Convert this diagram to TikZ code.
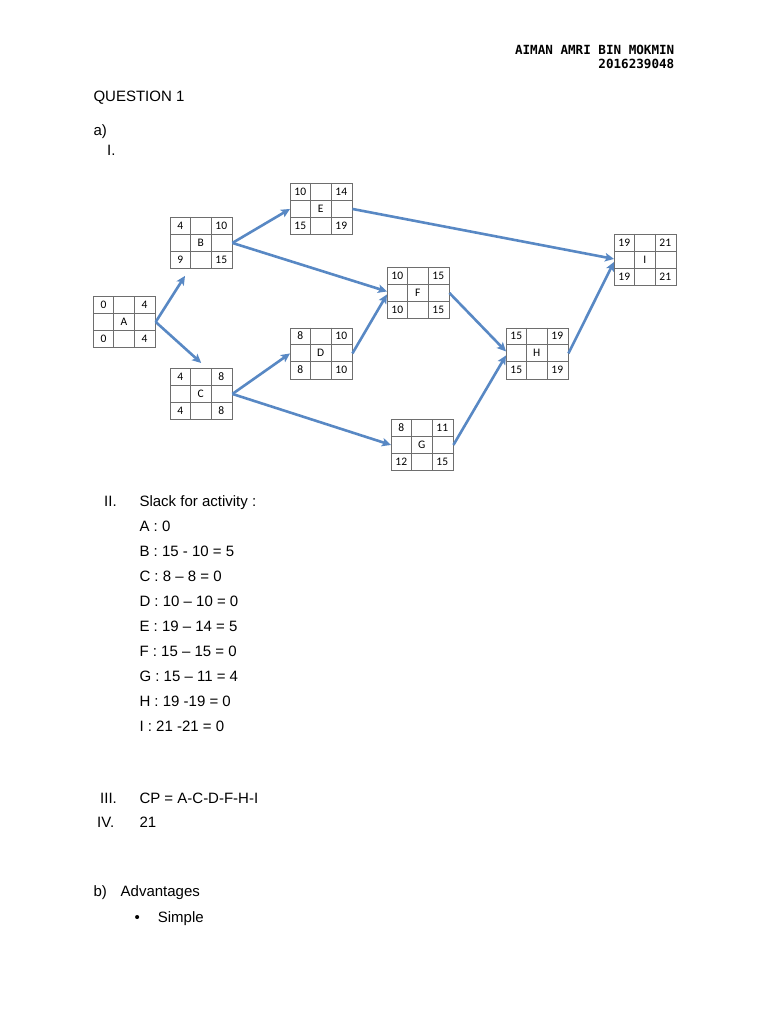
\documentclass[tikz,border=0pt]{standalone}
\usepackage{fontspec}
\setmainfont{Liberation Sans}
\newfontfamily\hdrfont{DejaVu Sans Mono}
\newfontfamily\boxfont{Carlito}
\usetikzlibrary{arrows.meta,calc}
\definecolor{arrowblue}{RGB}{88,136,196}
\definecolor{gridgray}{RGB}{110,110,110}
\tikzset{
  txt/.style={anchor=base west,inner sep=0pt,font=\fontsize{15}{18}\selectfont},
  hdr/.style={anchor=base east,inner sep=0pt,font=\hdrfont\bfseries\fontsize{12.6}{15}\selectfont},
  abox/.style={draw=gridgray,line width=0.9pt,minimum width=61.5pt,minimum height=51pt,inner sep=0pt,anchor=north west},
  gridline/.style={draw=gridgray,line width=0.9pt},
  cell/.style={inner sep=0pt,font=\boxfont\fontsize{11.5}{13}\selectfont},
  arr/.style={draw=arrowblue,line width=2.6pt,-{Stealth[length=9pt,width=8.5pt,inset=2pt]}},
}
\newcommand\actbox[8]{%
  \node[abox] (#1) at (#2,#3) {};
  \draw[gridline] (#2+20.5,#3) -- (#2+20.5,#3+51);
  \draw[gridline] (#2+41,#3) -- (#2+41,#3+51);
  \draw[gridline] (#2,#3+17) -- (#2+61.5,#3+17);
  \draw[gridline] (#2,#3+34) -- (#2+61.5,#3+34);
  \node[cell] (#1-es) at (#2+10.25,#3+8.5) {#4};
  \node[cell] (#1-ef) at (#2+51.25,#3+8.5) {#5};
  \node[cell] (#1-nm) at (#2+30.75,#3+25.5) {#6};
  \node[cell] (#1-ls) at (#2+10.25,#3+42.5) {#7};
  \node[cell] (#1-lf) at (#2+51.25,#3+42.5) {#8};
}
\begin{document}
\begin{tikzpicture}[x=1pt,y=-1pt]
\path[use as bounding box,fill=white] (0,0) rectangle (768,1024);
% header
\node[hdr] (name) at (674.5,55) {AIMAN AMRI BIN MOKMIN};
\node[hdr] (num) at (674.5,68.5) {2016239048};
% headings
\node[txt] (q1) at (93.3,101.5) {QUESTION 1};
\node[txt] (qa) at (93.3,135.5) {a)};
\node[txt] (r1) at (107,155.5) {I.};
% boxes
\actbox{A}{93.3}{296}{0}{4}{A}{0}{4}
\actbox{B}{170}{217}{4}{10}{B}{9}{15}
\actbox{C}{170}{368}{4}{8}{C}{4}{8}
\actbox{D}{290}{327.5}{8}{10}{D}{8}{10}
\actbox{E}{290}{183}{10}{14}{E}{15}{19}
\actbox{F}{387}{267}{10}{15}{F}{10}{15}
\actbox{G}{391}{419}{8}{11}{G}{12}{15}
\actbox{H}{506}{327.5}{15}{19}{H}{15}{19}
\actbox{I}{614}{234}{19}{21}{I}{19}{21}
% arrows
\draw[arr] (A.east) -- ($(B.south west)+(15,7)$);
\draw[arr] (A.east) -- ($(C.north)+(0,-5)$);
\draw[arr] (B.east) -- (E.west);
\draw[arr] (B.east) -- ($(F.west)+(0,-1.5)$);
\draw[arr] (E.east) -- ($(I.west)+(0,-1)$);
\draw[arr] (C.east) -- (D.west);
\draw[arr] (C.east) -- (G.west);
\draw[arr] (D.east) -- ($(F.west)+(0,1.5)$);
\draw[arr] (F.east) -- ($(H.west)+(0,-2)$);
\draw[arr] (G.east) -- ($(H.west)+(0,2)$);
\draw[arr] (H.east) -- ($(I.west)+(0,2)$);
% slack
\node[txt] (r2) at (104,506.5) {II.};
\node[txt] (sl) at (139.3,506.5) {Slack for activity :};
\node[txt] (sa) at (139.3,531.5) {A : 0};
\node[txt] (sb) at (139.3,556.5) {B : 15 - 10 = 5};
\node[txt] (sc) at (139.3,581.5) {C : 8 – 8 = 0};
\node[txt] (sd) at (139.3,606.5) {D : 10 – 10 = 0};
\node[txt] (se) at (139.3,631.5) {E : 19 – 14 = 5};
\node[txt] (sf) at (139.3,656.5) {F : 15 – 15 = 0};
\node[txt] (sg) at (139.3,681.5) {G : 15 – 11 = 4};
\node[txt] (sh) at (139.3,706.5) {H : 19 -19 = 0};
\node[txt] (si) at (139.3,731.5) {I : 21 -21 = 0};
% III, IV
\node[txt] (r3) at (100,803) {III.};
\node[txt] (cp) at (139.3,803) {CP = A-C-D-F-H-I};
\node[txt] (r4) at (97,827.5) {IV.};
\node[txt] (v21) at (139.3,827.5) {21};
% b
\node[txt] (qb) at (93.3,896.5) {b)};
\node[txt] (adv) at (120.5,896.5) {Advantages};
\node[txt] (bul) at (134.5,922.5) {•};
\node[txt] (simp) at (157.7,922.5) {Simple};
\end{tikzpicture}
\end{document}
